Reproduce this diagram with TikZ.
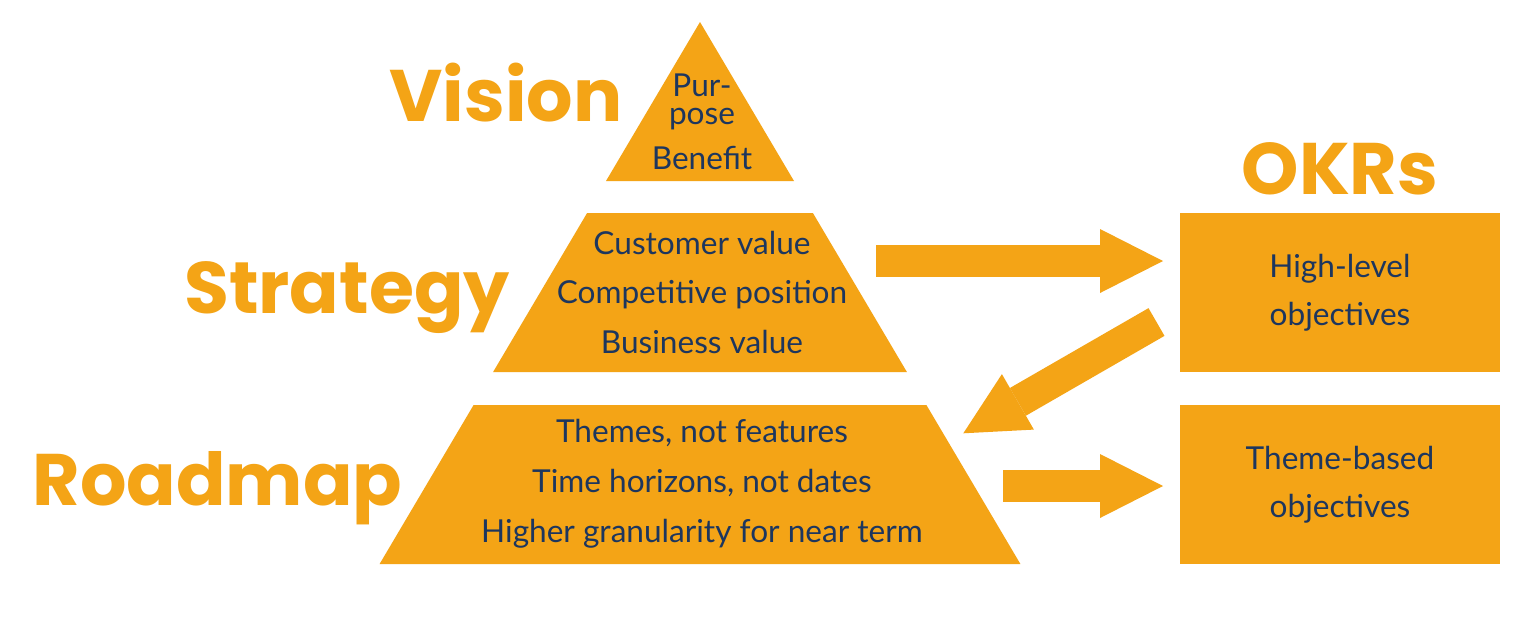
\documentclass[tikz,border=0pt]{standalone}
\usepackage{fontspec}
\setmainfont{Lato}
\newfontfamily\headfont{Poppins}
\usetikzlibrary{arrows.meta}
\definecolor{orng}{RGB}{244,164,22}
\definecolor{navy}{RGB}{29,54,94}
\tikzset{
  layer/.style={fill=orng, draw=none},
  heading/.style={anchor=base, inner sep=0pt, text=orng, font=\headfont\bfseries\fontsize{36.5pt}{36.5pt}\selectfont},
  body/.style={anchor=base, inner sep=0pt, text=navy, font=\fontsize{15.8pt}{15.8pt}\selectfont},
  okrbox/.style={fill=orng, draw=none, inner sep=0pt, minimum width=160pt, minimum height=79.5pt},
  blockarrow/.style={draw=orng, line width=16pt, line cap=butt,
    -{Triangle[length=31.5pt, width=32pt, line width=0pt]}},
}
\begin{document}
\begin{tikzpicture}[x=0.5pt, y=-0.5pt]
\useasboundingbox[fill=white] (0,0) rectangle (1528,618);
% pyramid
\coordinate (apex) at (700,22);
\fill[layer] (606,181) -- (apex) -- (794,181) -- cycle;
\fill[layer] (493.1,372) -- (587.1,213) -- (812.9,213) -- (906.9,372) -- cycle;
\fill[layer] (379.6,564) -- (473.6,405) -- (926.4,405) -- (1020.4,564) -- cycle;
% headings
\node[heading] (hvision) at (506,121) {Vision};
\node[heading] (hstrategy) at (347,313) {Strategy};
\node[heading] (hroadmap) at (217.5,505) {Roadmap};
\node[heading] (hokr) at (1340,194) {OKRs};
% vision text
\node[body] (v1) at (702,96) {Pur-};
\node[body] (v2) at (702,124) {pose};
\node[body] (v3) at (702,169) {Benefit};
% strategy text
\node[body] (s1) at (702,254) {Customer value};
\node[body] (s2) at (702,303) {Competitive position};
\node[body] (s3) at (702,353) {Business value};
% roadmap text
\node[body] (r1) at (702,442) {Themes, not features};
\node[body] (r2) at (702,492) {Time horizons, not dates};
\node[body] (r3) at (702,542) {Higher granularity for near term};
% OKR boxes
\node[okrbox] (ok1) at (1340,292.5) {};
\node[okrbox] (ok2) at (1340,484.5) {};
\node[body] (o1a) at (1340,277) {High-level};
\node[body] (o1b) at (1340,325) {objectives};
\node[body] (o2a) at (1340,469) {Theme-based};
\node[body] (o2b) at (1340,517) {objectives};
% arrows
\coordinate (a1s) at (876,261);
\coordinate (a1e) at (1163,261);
\coordinate (a2s) at (1156.5,322);
\coordinate (a2e) at (963.3,433.3);
\coordinate (a3s) at (1003,486);
\coordinate (a3e) at (1163,486);
\draw[blockarrow] (a1s) -- (a1e);
\draw[blockarrow] (a2s) -- (a2e);
\draw[blockarrow] (a3s) -- (a3e);
\end{tikzpicture}
\end{document}
